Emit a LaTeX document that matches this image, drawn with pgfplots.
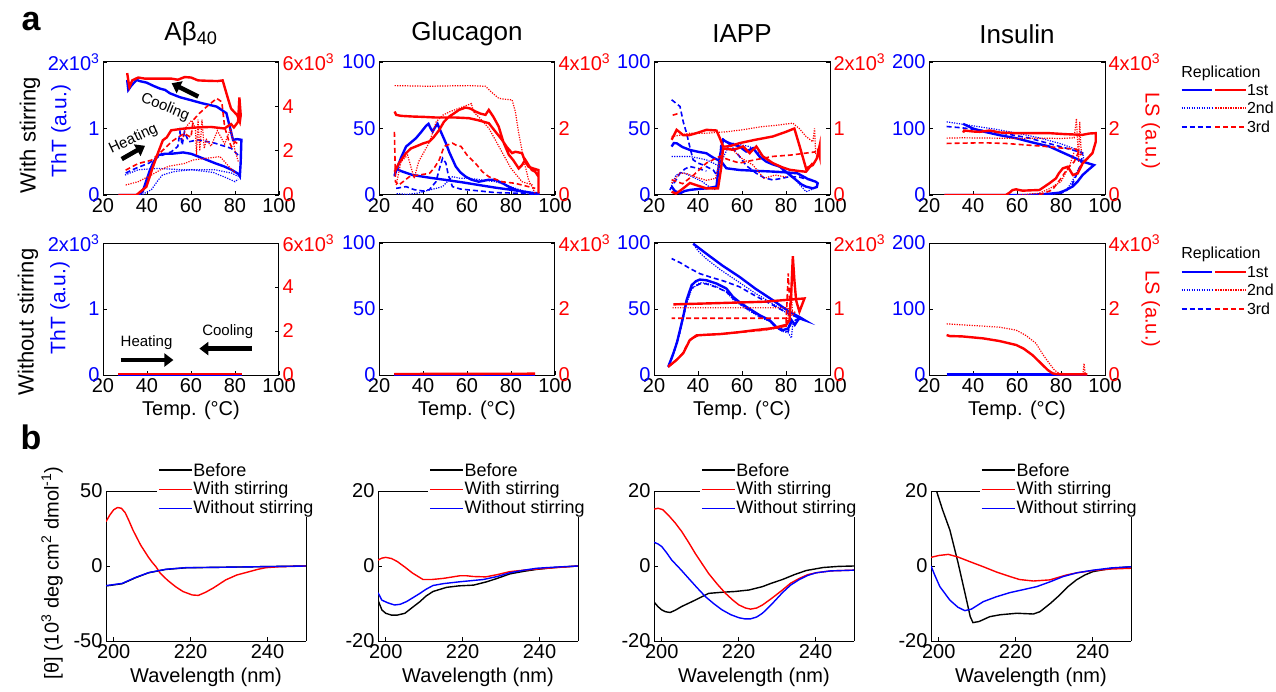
\documentclass[border=0pt]{standalone}
\usepackage{fontspec}
\setmainfont{Liberation Sans}
\usepackage{pgfplots}
\pgfplotsset{compat=1.18}
\usetikzlibrary{arrows.meta}
\definecolor{mblue}{RGB}{0,0,255}
\definecolor{mred}{RGB}{255,0,0}
\newcommand\F[1]{\fontsize{#1}{#1}\selectfont}
\tikzset{
 s1/.style={line width=2.4pt},
 s2/.style={line width=1.2pt,dash pattern=on 1.2pt off 1.3pt},
 s3/.style={line width=1.6pt,dash pattern=on 5pt off 3pt},
 cd/.style={line width=1.4pt},
 arr/.style={-{Triangle[length=9pt,width=13pt]},line width=4.5pt,black},
}
\pgfplotsset{
 every axis/.append style={scale only axis, tick align=inside, major tick length=4pt,
   every tick/.style={black,line width=0.8pt}, axis line style={line width=1pt},
   ticklabel style={font=\F{20}}, clip=true, clip mode=individual},
 T/.style={width=176pt,height=133pt,xmin=20,xmax=100,xtick={20,40,60,80,100},
   xticklabels={20,40,60,80,100},xtick pos=left,ytick pos=left,yticklabel style={text=mblue}},
 TR/.style={width=176pt,height=133pt,xmin=20,xmax=100,axis x line=none,axis y line*=right,
   yticklabel style={text=mred}},
 T2/.style={T,height=132pt,xlabel={Temp. (°C)},xlabel style={at={(axis description cs:0.5,-0.265)},anchor=center,font=\F{20}}},
 TR2/.style={TR,height=132pt},
 tit/.style={title style={at={(axis description cs:0.5,1.165)},anchor=center,font=\F{26}}},
 B/.style={width=200pt,height=150pt,xmin=198,xmax=250,xtick={200,220,240},xticklabels={200,220,240},
   axis x line*=bottom,axis y line*=left,xlabel={Wavelength (nm)},
   xlabel style={at={(axis description cs:0.5,-0.24)},anchor=center,font=\F{20}}},
}
% key of the replication legend (drawn inside the right axis of the Insulin panels)
\newcommand\repkey[4]{%
 \draw[mblue,s1] (axis description cs:1.435,#1) -- (axis description cs:1.61,#1);
 \draw[mred,s1] (axis description cs:1.627,#1) -- (axis description cs:1.802,#1);
 \draw[mblue,s2] (axis description cs:1.435,#2) -- (axis description cs:1.61,#2);
 \draw[mred,s2] (axis description cs:1.627,#2) -- (axis description cs:1.802,#2);
 \draw[mblue,s3] (axis description cs:1.435,#3) -- (axis description cs:1.61,#3);
 \draw[mred,s3] (axis description cs:1.627,#3) -- (axis description cs:1.802,#3);
 \node[anchor=west,font=\F{16},inner sep=0.5pt] at (axis description cs:1.803,#1) {1st};
 \node[anchor=west,font=\F{16},inner sep=0.5pt] at (axis description cs:1.803,#2) {2nd};
 \node[anchor=west,font=\F{16},inner sep=0.5pt] at (axis description cs:1.803,#3) {3rd};
 \node[anchor=west,font=\F{16},inner sep=0.5pt] at (axis description cs:1.43,#4) {Replication};}
% key of the CD legends: frame end, line start, line end, text start
\newcommand\cdkey[4]{%
 \draw[draw=mred,cd] (axis description cs:#2,1.01) -- (axis description cs:#3,1.01);
 \draw[draw=mblue,cd] (axis description cs:#2,0.883) -- (axis description cs:#3,0.883);
 \draw[draw=black,cd] (axis description cs:#2,1.14) -- (axis description cs:#3,1.14);
 \draw[draw=black,line width=1pt] (axis description cs:0,1) -- (axis description cs:#1,1);
 \draw[draw=black,line width=1pt] (axis description cs:1,0) -- (axis description cs:1,0.827);
 \node[anchor=west,font=\F{18},inner sep=0.5pt] at (axis description cs:#4,1.14) {Before};
 \node[anchor=west,font=\F{18},inner sep=0.5pt] at (axis description cs:#4,1.01) {With stirring};
 \node[anchor=west,font=\F{18},inner sep=0.5pt] at (axis description cs:#4,0.883) {Without stirring};}
\begin{document}
\begin{tikzpicture}
\path[use as bounding box] (0,0) rectangle (1276pt,-692pt);
\node[font=\F{34}\bfseries] at (31pt,-22pt) {a};
\node[font=\F{34}\bfseries] at (31pt,-437pt) {b};

% ================= a1 Abeta40 with stirring
\begin{axis}[T,tit,at={(103pt,-195pt)},anchor=south west,ymin=0,ymax=2,ytick={0,1,2},
  yticklabels={0,1,2x10\textsuperscript{3}},title={Aβ\textsubscript{40}}]
\addplot[mblue,s1] coordinates {(27,0)(36,0)(38,0.05)(41.3,0.37)(43,0.5)(45.1,0.6)(48,0.62)(51.1,0.62)(56.4,0.64)(60,0.62)(63.2,0.58)(70.8,0.48)(75,0.43)(78.4,0.38)(81.4,0.32)(82.2,0.28)(82.6,0.5)(82.9,0.83)(81,0.84)(79.1,0.83)(77.6,1.03)(76.1,1.23)(73,1.3)(71.6,1.33)(65,1.38)(59.5,1.43)(55,1.47)(50.4,1.53)(48.2,1.58)(45.9,1.6)(43,1.64)(39.8,1.69)(37,1.71)(35.3,1.73)(33,1.65)(31.5,1.58)(31,1.73)};
\addplot[mblue,s3] coordinates {(30.3,0.33)(34.8,0.4)(40.9,0.48)(45.4,0.58)(51.1,0.65)(54,0.73)(55,0.95)(56,0.75)(57,0.95)(59,0.8)(63.2,0.83)(70.8,0.78)(78.4,0.7)(81.4,0.6)};
\addplot[mblue,s2] coordinates {(30,0.3)(36,0.38)(45,0.4)(55.7,0.38)(70.8,0.38)(78.4,0.33)(81.4,0.28)};
\addplot[mblue,s2] coordinates {(30,0)(38,0.01)(42,0.08)(45,0.22)(47,0.3)(52,0.35)(60,0.38)(70,0.34)(76,0.26)(80,0.2)(81.4,0.24)};
\end{axis}
\begin{axis}[TR,at={(103pt,-195pt)},anchor=south west,ymin=0,ymax=6,ytick={0,2,4,6},
  yticklabels={0,2,4,6x10\textsuperscript{3}}]
\addplot[mred,s1] coordinates {(27,0)(35.2,0)(39.7,0.37)(42.7,1.27)(45,1.9)(47.2,2.47)(49,2.6)(51,2.92)(57,3.0)(63,3.05)(69.1,3.07)(75.2,3.0)(78.2,3.2)(79.5,3.05)(81.4,3.3)(82,4.4)(82.6,3.6)(82.2,3.3)(81,3.6)(78.2,3.9)(76.6,4.42)(74.4,5.17)(72.1,5.14)(68,5.15)(63.2,5.17)(60,5.3)(57.1,5.32)(54,5.2)(51.1,5.25)(45,5.25)(39,5.25)(36,5.3)(33.3,5.17)(32,4.87)(31.5,5.17)(31,5.5)};
\addplot[mred,s3] coordinates {(30.3,1.12)(36,1.42)(42,1.57)(46,1.9)(51.1,2.4)(54,2.6)(57,2.77)(60,2.6)(61,3.38)(64,3.7)(67.1,3.98)(71.7,4.36)(74,4.2)(75.3,3.07)(77,2.5)(78.4,2.17)(80,2.4)(81.4,2.3)};
\addplot[mred,s2] coordinates {(30.3,0.45)(36,0.6)(42,0.9)(46,1.13)(50,1.3)(57,1.42)(61,1.58)(66.3,1.65)(73.2,1.73)(75.3,1.5)(78,1.2)(80,1.0)};
\addplot[mred,s2] coordinates {(56,2.5)(58,3.1)(60.3,3.37)(62,3.0)(62.5,1.8)(63.2,3.4)(64,2.0)(65,3.4)(66,2.1)(67,2.5)(69.1,2.2)(72,2.9)(75.3,2.3)(78,3.0)(80,2.0)(81.5,1.5)};
\draw[arr] (axis cs:63.3,4.44) -- (axis cs:51.2,5.04);
\node[font=\F{15},rotate=-22] at (axis cs:48.2,3.96) {Cooling};
\draw[arr] (axis cs:28.5,1.62) -- (axis cs:39.1,2.22);
\node[font=\F{15},rotate=25] at (axis cs:33.8,2.52) {Heating};
\end{axis}

% ================= a2 Glucagon with stirring
\begin{axis}[T,tit,at={(379pt,-195pt)},anchor=south west,ymin=0,ymax=100,ytick={0,50,100},
  yticklabels={0,50,100},title={Glucagon}]
\addplot[mblue,s1] coordinates {(27.1,15)(30,28)(32.3,36.4)(36.8,42.7)(39,47)(41.4,52)(42.5,53.5)(43.5,50)(44.4,47.7)(45.5,51)(46.6,53.5)(48,48)(50.4,39)(52,32)(54.9,21.4)(57,17)(59.4,13.8)(62,11.5)(65.4,10)(70,11.5)(72.9,11.3)(76,9)(78.9,6.3)(82,4)(85,2.5)(90,1.5)(92.5,1.3)(92.5,0.5)(88,2)(80.5,3.8)(73,5.5)(65.4,7.5)(58,9.5)(50.4,11.3)(43,13)(35.3,15)(30,18)(27.8,20)(27.1,14)};
\addplot[mblue,s2] coordinates {(28,1)(33,0.5)(38,1.5)(42.9,3.8)(46,5)(48.9,6.3)(51,10)(53.4,13.8)(57,12.5)(60.9,12.6)(66,11.5)(72.9,10)(77,8)(81.9,5)(86,3)(92.5,1)};
\addplot[mblue,s3] coordinates {(27.8,5)(32.3,6.3)(36,4)(40,3)(42.9,4)(45.9,10)(47.5,20)(48.9,27.6)(50.4,24)(51.5,15)(53.4,6.3)(57,4.5)(60.9,3.8)(66,3)(72.9,1.8)(80,1.5)(85,1.3)(92.5,0.2)};
\end{axis}
\begin{axis}[TR,at={(379pt,-195pt)},anchor=south west,ymin=0,ymax=4,ytick={0,2,4},
  yticklabels={0,2,4x10\textsuperscript{3}}]
\addplot[mred,s1] coordinates {(27.1,0.7)(29,0.95)(32.3,1.26)(34.5,1.4)(36.8,1.46)(40,1.55)(42.9,1.61)(45,1.75)(47.4,1.96)(49.5,2.2)(51.9,2.36)(54,2.45)(56.4,2.56)(59.4,2.63)(61.5,2.6)(63.9,2.51)(66,2.45)(68.4,2.41)(69.9,2.56)(72,2.35)(74.4,2.06)(76.5,1.6)(79,1.21)(81,1.05)(83.5,0.8)(85,0.9)(86.5,1.06)(88,0.9)(89.5,0.75)(91,0.7)(92.5,0.55)(92.5,0.05)(92.5,0.75)(90,0.8)(88,0.85)(86.5,1.0)(85,1.26)(82,1.3)(80.5,1.26)(78,1.45)(75.9,1.66)(73,1.9)(69.9,2.16)(65,2.25)(60.9,2.31)(55,2.33)(45.9,2.33)(40,2.35)(35.3,2.36)(30,2.38)(27.8,2.41)(27.1,2.51)};
\addplot[mred,s2] coordinates {(27.1,3.29)(35,3.28)(42.9,3.27)(50,3.28)(60.9,3.29)(68.4,3.27)(71,3.1)(74.4,2.91)(77,2.88)(80.5,2.86)(82,2.5)(83.5,1.86)(86,1.0)(88,0.45)(91,0.05)};
\addplot[mred,s2] coordinates {(27.8,0.3)(30,1.0)(33,1.2)(36,0.5)(38,1.0)(43,1.6)(46,2.2)(49,2.4)(52,2.5)(56,2.6)(60,2.7)(62,2.75)(63,2.5)(66,2.3)(70,2.0)(75,1.4)(80,0.8)(85,0.4)(90,0.3)};
\addplot[mred,s3] coordinates {(27,1.9)(27.5,0.4)(29,0.3)(33.8,0.55)(38,0.6)(42.9,0.65)(45,0.8)(47.4,1.06)(49.6,1.46)(51,1.5)(53.4,1.56)(55,1.5)(57.3,1.46)(60,1.2)(63.9,0.95)(67,0.7)(69.9,0.55)(75.9,0.4)(82,0.35)(88,0.25)(91,0.2)};
\end{axis}

% ================= a3 IAPP with stirring
\begin{axis}[T,tit,at={(654pt,-195pt)},anchor=south west,ymin=0,ymax=100,ytick={0,50,100},
  yticklabels={0,50,100},title={IAPP}]
\addplot[mblue,s1] coordinates {(28,6.3)(29.5,3)(31.8,1.3)(34,3)(36.3,3.8)(40,4.5)(43.8,5)(48.4,6.3)(49.9,28.9)(51.4,41.5)(52.9,40)(54.4,38.9)(58.9,36.4)(61.9,32.7)(65,35.2)(68,28.9)(71,25.1)(74,23)(77.1,21.4)(81,16)(84.6,11.3)(87,8)(89.1,6.3)(92.2,5)(94,6)(94.4,8.8)(93.5,10)(90,12)(85.2,16.3)(80,17)(74,17.6)(66,18.2)(58.9,18.8)(52.9,20.1)(50.6,25.1)(47,28)(43.8,31.4)(40,32.5)(36.3,33.9)(33,36)(30.3,38.9)(29,39)(28,36.4)};
\addplot[mblue,s3] coordinates {(28,71.6)(30,69)(31.8,66.6)(33.3,55)(34.8,46.5)(36.3,36)(37.8,26.4)(40,24)(42.3,22.6)(46.9,18.8)(48.5,15)(49.9,26.4)(50.5,40)(51.4,42)(54.4,38)(57,33)(58.9,28.9)(62,22)(66.5,16.3)(70,13)(74,11.3)(78,12.5)(81.6,13.8)(86,13.5)(89,12)(92.2,11.3)};
\addplot[mblue,s3] coordinates {(27.2,3.8)(29.5,10)(31.8,16.3)(34,19.5)(36.3,21.4)(40,20)(43.8,18)};
\addplot[mblue,s2] coordinates {(28,28.9)(32,28.9)(36.3,28.9)(40,27.8)(43.8,26.4)(47,24)(49.9,21.4)(52,30)(54,37)(55.9,38.9)(60,37.5)(63.5,36.4)(68,31)(74,23.9)(78,20)(81.6,16.3)(85,10)(89.1,2.5)(91.5,4)(93.7,6.3)};
\addplot[mblue,s2] coordinates {(27.5,5)(30,15)(33,17)(37,14)(42,10)(46,5)(48,4)};
\end{axis}
\begin{axis}[TR,at={(654pt,-195pt)},anchor=south west,ymin=0,ymax=2,ytick={0,1,2},
  yticklabels={0,1,2x10\textsuperscript{3}}]
\addplot[mred,s1] coordinates {(28,0.83)(30.3,0.98)(33.3,0.9)(36,0.9)(39.3,0.93)(43.8,0.98)(48.4,0.97)(50,0.85)(51.4,0.73)(53,0.73)(55,0.74)(58.9,0.78)(66,0.83)(74,0.88)(80,0.95)(83.8,1.0)(86.5,0.7)(89.1,0.4)(92.2,0.45)(94,0.55)(95.2,0.73)(95.2,0.6)(94.5,0.7)};
\addplot[mred,s1] coordinates {(28,0.05)(30,0.02)(33.3,0.1)(36.3,0.18)(40,0.14)(43.8,0.1)(49.1,0.1)(50.5,0.4)(51.4,0.7)(55.9,0.68)(58,0.7)(60.5,0.73)(63.5,0.63)(66.5,0.73)(69.5,0.58)(74,0.48)(78,0.42)(81.6,0.38)(86,0.36)(89.1,0.35)(92.2,0.48)};
\addplot[mred,s2] coordinates {(28,0.88)(32,0.9)(36.3,0.93)(43.8,0.93)(52.9,0.95)(60,0.98)(69.5,1.03)(76,1.05)(83.1,1.08)(86,1.0)(89.1,0.88)(92.2,0.8)(93,1.0)(93.5,0.6)};
\addplot[mred,s2] coordinates {(28,0.18)(31.8,0.33)(35,0.32)(38,0.28)(43.8,0.22)(48,0.25)(51,0.68)(55,0.7)(60,0.55)(65,0.45)(70,0.25)(75,0.3)(80,0.27)};
\addplot[mred,s3] coordinates {(28,0.23)(33,0.17)(38,0.3)(43.8,0.48)(49.9,0.58)(54,0.53)(58.9,0.48)(66,0.53)(74,0.58)(82,0.6)(89.1,0.63)(93.7,0.65)};
\addplot[mred,s3] coordinates {(28.5,1.2)(31.5,1.23)};
\end{axis}

% ================= a4 Insulin with stirring
\begin{axis}[T,tit,at={(929pt,-195pt)},anchor=south west,ymin=0,ymax=200,ytick={0,100,200},
  yticklabels={0,100,200},title={Insulin}]
\addplot[mblue,s1] coordinates {(27,0)(40,0)(55,0)(65,0)(70.2,1)(75,2)(79.2,3.5)(82,7)(85.2,12.6)(87.5,20)(89.8,30)(92.5,38)(95,45)(93,47)(89.8,50.3)(82,62)(74.7,72.9)(67,79)(59.6,85.4)(52,90)(44.6,95.5)(40,100)(35.5,107)};
\addplot[mblue,s2] coordinates {(28,110)(32,108)(40,104)(50,99)(60,93)(70,86)(80,77)(89.8,65)(90.5,50)(88,40)(85,20)(83,10)(80,3)(75,0.5)};
\addplot[mblue,s3] coordinates {(28,103)(35,101)(45,97)(55,92)(65,86)(75,77)(85,68)(89.8,63)(89,45)(87,30)(85,15)(82,5)(78,1)};
\end{axis}
\begin{axis}[TR,at={(929pt,-195pt)},anchor=south west,ymin=0,ymax=4,ytick={0,2,4},
  yticklabels={0,2,4x10\textsuperscript{3}}]
\addplot[mred,s1] coordinates {(27,0)(55,0)(56.6,0.07)(58,0.15)(59.6,0.17)(62.5,0.13)(66,0.14)(70.2,0.15)(74.7,0.35)(77.7,0.5)(79,0.65)(80.8,0.8)(83.1,0.85)(85.4,0.6)(87.6,0.65)(89.8,0.95)(92,1.1)(94.3,1.26)(95.8,1.6)(95.8,1.86)(93,1.85)(89.8,1.81)(82,1.83)(74.7,1.86)(67,1.86)(59.6,1.86)(52.1,1.88)(47.6,1.94)(43,1.9)(40,1.91)(36,1.94)(35.5,1.88)};
\addplot[mred,s2] coordinates {(28,1.71)(35,1.72)(50,1.71)(60,1.7)(70,1.71)(80,1.7)(86,1.72)(87,2.3)(88,1.0)(88.5,2.2)(89,1.5)(89.5,1.2)};
\addplot[mred,s2] coordinates {(60,0)(70,0.05)(75,0.2)(80,0.4)(84,0.9)(86,1.3)};
\addplot[mred,s3] coordinates {(28,1.55)(35,1.56)(45,1.57)(55,1.55)(65,1.5)(75,1.45)(82,1.4)(87,1.38)(89,1.2)};
\addplot[mred,s3] coordinates {(70,0)(76,0.15)(80,0.5)(83,0.8)(86,1.0)(88,1.3)};
\repkey{0.789}{0.654}{0.511}{0.917}
\node[rotate=-90,font=\F{20},text=mred] at (axis description cs:1.26,0.48) {LS (a.u.)};
\end{axis}

% ================= row 2
\begin{axis}[T2,at={(103pt,-375pt)},anchor=south west,ymin=0,ymax=2,ytick={0,1,2},
  yticklabels={0,1,2x10\textsuperscript{3}}]
\addplot[mblue,s1] coordinates {(27,0.005)(83,0.005)};
\node[font=\F{15}] at (axis cs:39.8,0.49) {Heating};
\draw[arr] (axis cs:28,0.227) -- (axis cs:52,0.227);
\node[font=\F{15}] at (axis cs:76.7,0.66) {Cooling};
\draw[arr] (axis cs:87.6,0.40) -- (axis cs:63.8,0.40);
\end{axis}
\begin{axis}[TR2,at={(103pt,-375pt)},anchor=south west,ymin=0,ymax=6,ytick={0,2,4,6},
  yticklabels={0,2,4,6x10\textsuperscript{3}}]
\addplot[mred,s1] coordinates {(27,0.04)(83,0.04)};
\addplot[mred,s2] coordinates {(27,0.06)(83,0.06)};
\end{axis}

\begin{axis}[T2,at={(379pt,-375pt)},anchor=south west,ymin=0,ymax=100,ytick={0,50,100},
  yticklabels={0,50,100}]
\addplot[mblue,s1] coordinates {(27,0.3)(91,0.3)};
\end{axis}
\begin{axis}[TR2,at={(379pt,-375pt)},anchor=south west,ymin=0,ymax=4,ytick={0,2,4},
  yticklabels={0,2,4x10\textsuperscript{3}}]
\addplot[mred,s1] coordinates {(27,0.03)(91,0.04)};
\addplot[mred,s2] coordinates {(27,0.05)(91,0.05)};
\end{axis}

\begin{axis}[T2,at={(654pt,-375pt)},anchor=south west,ymin=0,ymax=100,ytick={0,50,100},
  yticklabels={0,50,100}]
\addplot[mblue,s1] coordinates {(26.5,6.3)(28.8,16.4)(30.5,25)(31.8,34)(33.5,46)(34.8,56.7)(37.1,68)(39,71)(40.8,72.3)(43.8,71.8)(48.4,69.3)(52.9,65.5)(55.9,59.2)(59,55)(62,51.6)(68,45.3)(72.5,41.6)(75.5,36.5)(78.6,34)(81,35.3)(82.5,41.6)(84,38)(86,43)(88.4,41.6)(86,44)(81.6,47.9)(78,52)(74,56.7)(66,65.5)(58.9,74.3)(51,83)(43.8,91.9)(37.8,99.5)};
\addplot[mblue,s2] coordinates {(26.5,6)(28.8,15)(31.8,32)(34.8,54)(37.1,65)(40.8,70)(43.8,69.5)(48.4,67)(52.9,63)(56,57)(62,50)(68,44)(72.5,40.5)(75.5,36)(78.6,33)(81,32)(82.5,28)(83,38)(86,42)(84,45)(81.6,45.5)(74,54)(66,62)(58.9,70)(50,80)(43.8,88)(40,94)(38,99)};
\addplot[mblue,s3] coordinates {(26.5,6)(28.8,16)(31.8,33)(34.8,55)(37.1,66)(40.8,69)(43.8,69)(48.4,66.5)(52.9,63)(56,58)(62,50.5)(68,44.5)(72.5,41)(75.5,36)(78.6,33)(81,33)(82.5,40)(86,43)(88,42)(81.6,46)(74,53)(66,60)(58.9,66.8)(52,71)(46,74)(40.8,76.8)(36,81)(32,85)(28,88.2)};
\end{axis}
\begin{axis}[TR2,at={(654pt,-375pt)},anchor=south west,ymin=0,ymax=2,ytick={0,1,2},
  yticklabels={0,1,2x10\textsuperscript{3}}]
\addplot[mred,s1] coordinates {(26.5,0.13)(28.5,0.18)(30.3,0.23)(33.3,0.33)(36.3,0.53)(39.3,0.6)(43.8,0.61)(50,0.62)(58.9,0.65)(66,0.68)(74,0.71)(80.1,0.76)(81.6,0.83)(82.3,1.18)(83.1,1.8)(83.8,1.44)(84.6,1.13)(86.1,0.96)(88.4,1.16)(70,1.11)(50,1.09)(28.8,1.07)};
\addplot[mred,s2] coordinates {(26.5,0.12)(30,0.22)(33,0.32)(36,0.52)(40,0.6)(50,0.62)(60,0.65)(70,0.68)(78,0.72)(80.5,0.78)(81.5,1.0)(82.5,1.3)(83,0.9)(84,0.95)(80,1.02)(60,1.02)(28,1.02)};
\addplot[mred,s3] coordinates {(26.5,0.12)(30,0.22)(33,0.33)(36,0.52)(40,0.6)(50,0.62)(60,0.65)(70,0.68)(80,0.74)(81,1.54)(82,0.9)(80,0.86)(60,0.86)(28,0.86)};
\end{axis}

\begin{axis}[T2,at={(929pt,-375pt)},anchor=south west,ymin=0,ymax=200,ytick={0,100,200},
  yticklabels={0,100,200}]
\addplot[mblue,s1] coordinates {(28,0.6)(92,0.6)};
\addplot[mblue,s3] coordinates {(28,0.6)(92,0.6)};
\end{axis}
\begin{axis}[TR2,at={(929pt,-375pt)},anchor=south west,ymin=0,ymax=4,ytick={0,2,4},
  yticklabels={0,2,4x10\textsuperscript{3}}]
\addplot[mred,s1] coordinates {(28,1.21)(29.5,1.18)(35,1.17)(44.6,1.11)(52,1.03)(59.6,0.91)(63,0.8)(67.1,0.6)(71.7,0.3)(74,0.15)(76.2,0.05)(77.7,0.03)(80,0.02)(92,0.02)};
\addplot[mred,s2] coordinates {(28,1.55)(35,1.52)(44.6,1.48)(52,1.45)(59.6,1.36)(64,1.2)(68.6,0.96)(72,0.6)(74.7,0.35)(77,0.15)(79.2,0.05)(85,0.03)(90,0.03)(90.5,0.35)(91,0.03)(92,0.03)};
\repkey{0.780}{0.644}{0.5}{0.917}
\node[rotate=-90,font=\F{20},text=mred] at (axis description cs:1.26,0.5) {LS (a.u.)};
\end{axis}

% side labels
\node[rotate=90,font=\F{22}] at (30pt,-135pt) {With stirring};
\node[rotate=90,font=\F{21},text=mblue] at (61pt,-131pt) {ThT (a.u.)};
\node[rotate=90,font=\F{22}] at (28pt,-322pt) {Without stirring};
\node[rotate=90,font=\F{21},text=mblue] at (60pt,-308pt) {ThT (a.u.)};

% ================= row b
\begin{axis}[B,at={(106pt,-641pt)},anchor=south west,ymin=-50,ymax=50,ytick={-50,0,50},
  yticklabels={-50,0,50},
  ylabel={{[}θ{]} (10\textsuperscript{3} deg cm\textsuperscript{2} dmol\textsuperscript{-1})},
  ylabel style={at={(axis description cs:-0.27,0.453)},anchor=center,font=\F{20}}]
\addplot[black,cd] coordinates {(198,-13.3)(202.2,-11.8)(205.7,-7.8)(209.1,-4.5)(213.5,-2.3)(218.7,-1.2)(226.5,-0.9)(239.6,-0.4)(250,0)};
\addplot[mred,cd] coordinates {(198,29.6)(199,34)(200,37.5)(201,39)(202,38.5)(203,35.5)(204,30)(205,24)(206,19)(207,14)(208,10)(209,6)(210,2.5)(211,-0.5)(212,-4.5)(214,-9.5)(216.1,-13.8)(218,-17)(220.4,-19.3)(222,-19.6)(223.9,-17.5)(226,-14.5)(229.1,-9.3)(232,-6)(235.2,-3.8)(237.5,-2.2)(239.6,-1.1)(243,-0.5)(250,0)};
\addplot[mblue,cd] coordinates {(198,-13.1)(202.2,-11.6)(205.7,-7.6)(209.1,-4.4)(213.5,-2.2)(218.7,-1.1)(226.5,-0.9)(239.6,-0.4)(250,0)};
\cdkey{0.255}{0.264}{0.428}{0.433}
\end{axis}

\begin{axis}[B,at={(378pt,-641pt)},anchor=south west,ymin=-20,ymax=20,ytick={-20,0,20},
  yticklabels={-20,0,20}]
\addplot[black,cd] coordinates {(198,-9.1)(199,-11.7)(200,-12.6)(201.5,-13.1)(203,-13.1)(205,-12.6)(207,-11)(208.9,-9.5)(210.5,-8)(212.3,-6.8)(215.8,-5.7)(219,-5.3)(222.8,-5.1)(226.3,-4.2)(229,-3.3)(232.3,-2.1)(236,-1.4)(239.3,-0.9)(244,-0.4)(250,0)};
\addplot[mred,cd] coordinates {(198,1.6)(199,2.1)(200,2.3)(201.5,2.0)(203,1.2)(205,-0.3)(207,-1.9)(209.7,-3.6)(212,-3.6)(215,-3.3)(219.3,-2.6)(221,-2.6)(222.8,-2.8)(226,-2.9)(229,-2.3)(232.3,-1.5)(236,-1.1)(241.9,-0.6)(250,0)};
\addplot[mblue,cd] coordinates {(198,-7.1)(199,-9.1)(200.5,-9.8)(202.3,-10.4)(203.8,-10.2)(205.4,-9.5)(207,-8.5)(208.9,-7.3)(210.5,-6.2)(212.3,-5.2)(215,-4.7)(219.3,-4.2)(225.4,-3.6)(229,-2.8)(232.3,-1.8)(236,-1.1)(239.3,-0.6)(244,-0.3)(250,0)};
\cdkey{0.25}{0.26}{0.425}{0.43}
\end{axis}

\begin{axis}[B,at={(654pt,-641pt)},anchor=south west,ymin=-20,ymax=20,ytick={-20,0,20},
  yticklabels={-20,0,20}]
\addplot[black,cd] coordinates {(197.6,-9.1)(199,-10.8)(200,-11.7)(201,-12.2)(202.2,-12.4)(203.5,-11.8)(205.2,-10.8)(208.7,-9.1)(212.2,-7.3)(215.7,-7.0)(219,-6.8)(222.7,-6.4)(226.2,-5.5)(228.5,-4.6)(231.4,-3.6)(234.5,-2.3)(237.6,-1.2)(242,-0.4)(246,-0.1)(250,0)};
\addplot[mred,cd] coordinates {(197.6,15.1)(199.1,15.4)(200.3,15)(201.7,13.6)(203.5,11.5)(205.2,9.2)(207,6.3)(208.7,3.4)(210.5,0.6)(212.2,-2.0)(214.5,-4.9)(216.6,-7.3)(218.5,-9.1)(220.1,-10.4)(221.8,-11.2)(223.1,-11.5)(224.7,-11.2)(226.2,-10.4)(228.5,-8.7)(231.4,-6.4)(233.5,-4.6)(235.8,-3.3)(238,-2.3)(240.2,-1.8)(244,-1.3)(250.2,-1.1)};
\addplot[mblue,cd] coordinates {(197.6,6.5)(199,5.9)(200,5.2)(201.3,3.5)(202.6,1.6)(205,-1.0)(207,-3.3)(209.2,-5.8)(211.4,-8.2)(213.6,-10.1)(215.7,-11.7)(218,-13)(220.1,-13.8)(221.6,-14.1)(223.1,-14.1)(224.7,-13.6)(226.2,-12.6)(228.5,-10.3)(231.4,-7.1)(233.5,-5.1)(235.8,-3.6)(238,-2.5)(240.2,-1.8)(244,-1.3)(250.2,-1.1)};
\cdkey{0.23}{0.239}{0.403}{0.408}
\end{axis}

\begin{axis}[B,at={(931pt,-641pt)},anchor=south west,ymin=-20,ymax=20,ytick={-20,0,20},
  yticklabels={-20,0,20}]
\addplot[black,cd] coordinates {(198.9,22.5)(199.5,19.8)(201,15)(202.9,9.6)(205,1)(207,-8)(208.2,-13.5)(208.9,-15.1)(210.5,-14.8)(213.3,-13.5)(216,-13)(220.3,-12.6)(224.6,-12.8)(226.3,-12.2)(229,-10)(231.5,-7.7)(233.5,-5.6)(235.8,-3.7)(238,-2.4)(240.1,-1.5)(245,-0.6)(250,-0.2)};
\addplot[mred,cd] coordinates {(198,2.3)(200,2.8)(202.5,3.1)(205,2.4)(208,1.2)(211.6,-0.2)(215,-1.6)(218.5,-2.8)(221,-3.6)(224.6,-4.0)(228.9,-3.7)(233.2,-2.4)(236,-1.8)(240.2,-1.2)(245,-0.8)(250,-0.6)};
\addplot[mblue,cd] coordinates {(198,0)(199,-2.5)(200.3,-5.5)(202.9,-9.1)(205,-11)(206.8,-11.9)(208.5,-11.5)(211.6,-9.5)(215,-8.2)(218.5,-7.1)(222,-6.3)(225.5,-5.5)(229,-4.2)(232.4,-2.8)(236,-1.8)(240.2,-1.1)(245,-0.5)(250,-0.2)};
\cdkey{0.245}{0.2535}{0.4185}{0.424}
\end{axis}
\end{tikzpicture}
\end{document}
